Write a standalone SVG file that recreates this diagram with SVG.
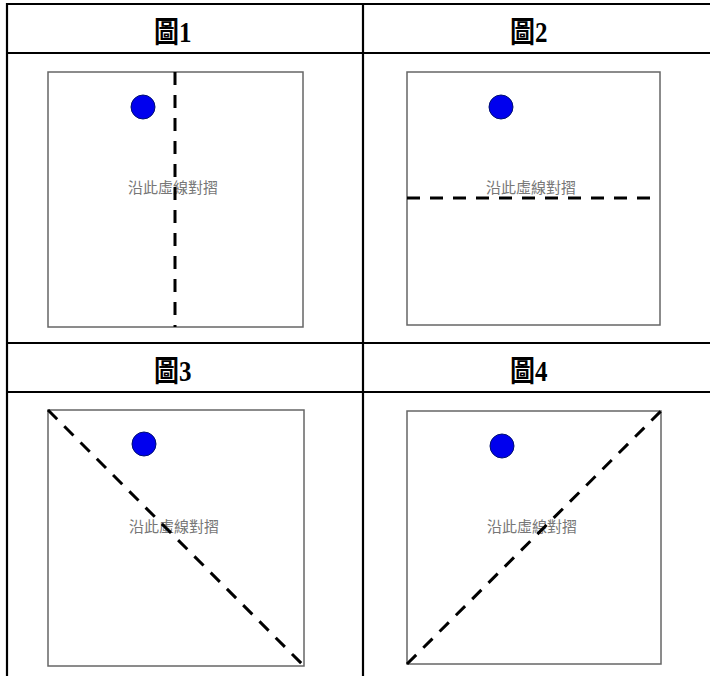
<svg xmlns="http://www.w3.org/2000/svg" width="710" height="676" viewBox="0 0 710 676">
<style>
.grid{stroke:#000;stroke-width:2.2;fill:none}
.sq{fill:#fff;stroke:#666;stroke-width:1.5}
.fold{stroke:#000;stroke-width:3;stroke-dasharray:13 10;fill:none}
.dot{fill:#0000ee;stroke:#001070;stroke-width:1}
.hd{font-family:"Liberation Serif","Noto Sans CJK TC",serif;font-size:25px;font-weight:bold;fill:#000}
.lb{font-family:"Liberation Sans","Noto Sans CJK TC",sans-serif;font-size:15px;fill:#777;text-anchor:middle}
</style>
<rect width="710" height="676" fill="#fff"/>
<g id="table" class="grid">
<line x1="7" y1="4" x2="710" y2="4"/>
<line x1="7" y1="53" x2="710" y2="53"/>
<line x1="7" y1="343" x2="710" y2="343"/>
<line x1="7" y1="392" x2="710" y2="392"/>
<line x1="7" y1="3" x2="7" y2="676"/>
<line x1="363" y1="3" x2="363" y2="676"/>
</g>
<g id="fig1">
<text class="hd" transform="translate(154,42) scale(1,1.2)">圖1</text>
<rect class="sq" x="48" y="72" width="255" height="255"/>
<circle class="dot" cx="143" cy="107" r="12"/>
<text class="lb" x="173" y="193">沿此虛線對摺</text>
<line class="fold" x1="175" y1="72" x2="175" y2="327"/>
</g>
<g id="fig2">
<text class="hd" transform="translate(510,42) scale(1,1.2)">圖2</text>
<rect class="sq" x="407" y="72" width="253" height="253"/>
<circle class="dot" cx="501" cy="107" r="12"/>
<text class="lb" x="531" y="193">沿此虛線對摺</text>
<line class="fold" x1="407" y1="198" x2="660" y2="198"/>
</g>
<g id="fig3">
<text class="hd" transform="translate(154,381) scale(1,1.2)">圖3</text>
<rect class="sq" x="48" y="410" width="256" height="256"/>
<circle class="dot" cx="144" cy="444" r="12"/>
<text class="lb" x="174" y="532">沿此虛線對摺</text>
<line class="fold" x1="48" y1="410" x2="304" y2="666"/>
</g>
<g id="fig4">
<text class="hd" transform="translate(510,381) scale(1,1.2)">圖4</text>
<rect class="sq" x="407" y="411" width="254" height="253"/>
<circle class="dot" cx="502" cy="446" r="12"/>
<text class="lb" x="532" y="532">沿此虛線對摺</text>
<line class="fold" x1="407" y1="664" x2="661" y2="411"/>
</g>
</svg>
